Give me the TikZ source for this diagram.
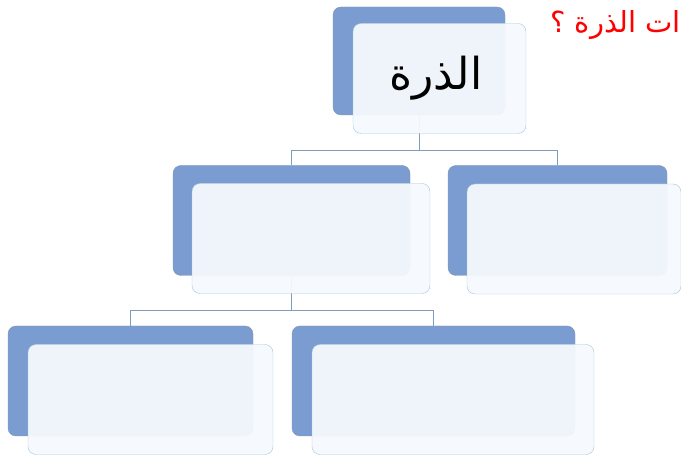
\documentclass[tikz,border=0pt]{standalone}
\usepackage{fontspec}
\newfontfamily\arabicfont[Script=Arabic]{DejaVu Sans}
\TeXXeTstate=1
\definecolor{boxblue}{HTML}{7B9CD0}
\definecolor{boxedge}{HTML}{8394B0}
\definecolor{cardfill}{HTML}{F5F9FD}
\definecolor{cardedge}{HTML}{A2C8DE}
\definecolor{linkcol}{HTML}{7F9DBB}

\begin{document}
\begin{tikzpicture}
    [x=1pt,y=-1pt,
     back/.style={rectangle,rounded corners=8pt,fill=boxblue,draw=boxedge,minimum height=110pt},
     card/.style={rectangle,rounded corners=8pt,fill=cardfill,fill opacity=.95,draw=cardedge,minimum height=110pt},
     link/.style={draw=linkcol,line width=.8pt}]
    \useasboundingbox (0,0) rectangle (681,462);
    % back boxes
    \node[back,minimum width=172pt,minimum height=108pt] (nt) at (419,61) {};
    \node[back,minimum width=237pt] (nl) at (291.5,220.5) {};
    \node[back,minimum width=219pt] (nr) at (557.5,220.5) {};
    \node[back,minimum width=245pt] (nll) at (130.5,381) {};
    \node[back,minimum width=283pt] (nlr) at (433.5,381) {};
    % connectors
    \draw[link] (nt.south) -- ++(0,35) -| (nl.north);
    \draw[link] (nt.south) ++(0,35) -| (nr.north);
    \draw[link] (nl.south) -- ++(0,35) -| (nll.north);
    \draw[link] (nl.south) ++(0,35) -| (nlr.north);
    % front cards
    \node[card,minimum width=173pt] (ft) at (439.5,78.5) {};
    \node[card,minimum width=238pt] (fl) at (311,238.5) {};
    \node[card,minimum width=214pt] (fr) at (574,239) {};
    \node[card,minimum width=245pt] (fll) at (150.5,399.5) {};
    \node[card,minimum width=282pt] (flr) at (453,399.5) {};
    \node[font=\arabicfont\fontsize{44}{50}\selectfont] (word) at (436,78) {\beginR الذرة\endR};
    \node[anchor=east,inner sep=0pt,text=red,font=\arabicfont\fontsize{29}{34}\selectfont] (title) at (681,25) {\beginR ات الذرة ؟\endR};
  \end{tikzpicture}
\end{document}
